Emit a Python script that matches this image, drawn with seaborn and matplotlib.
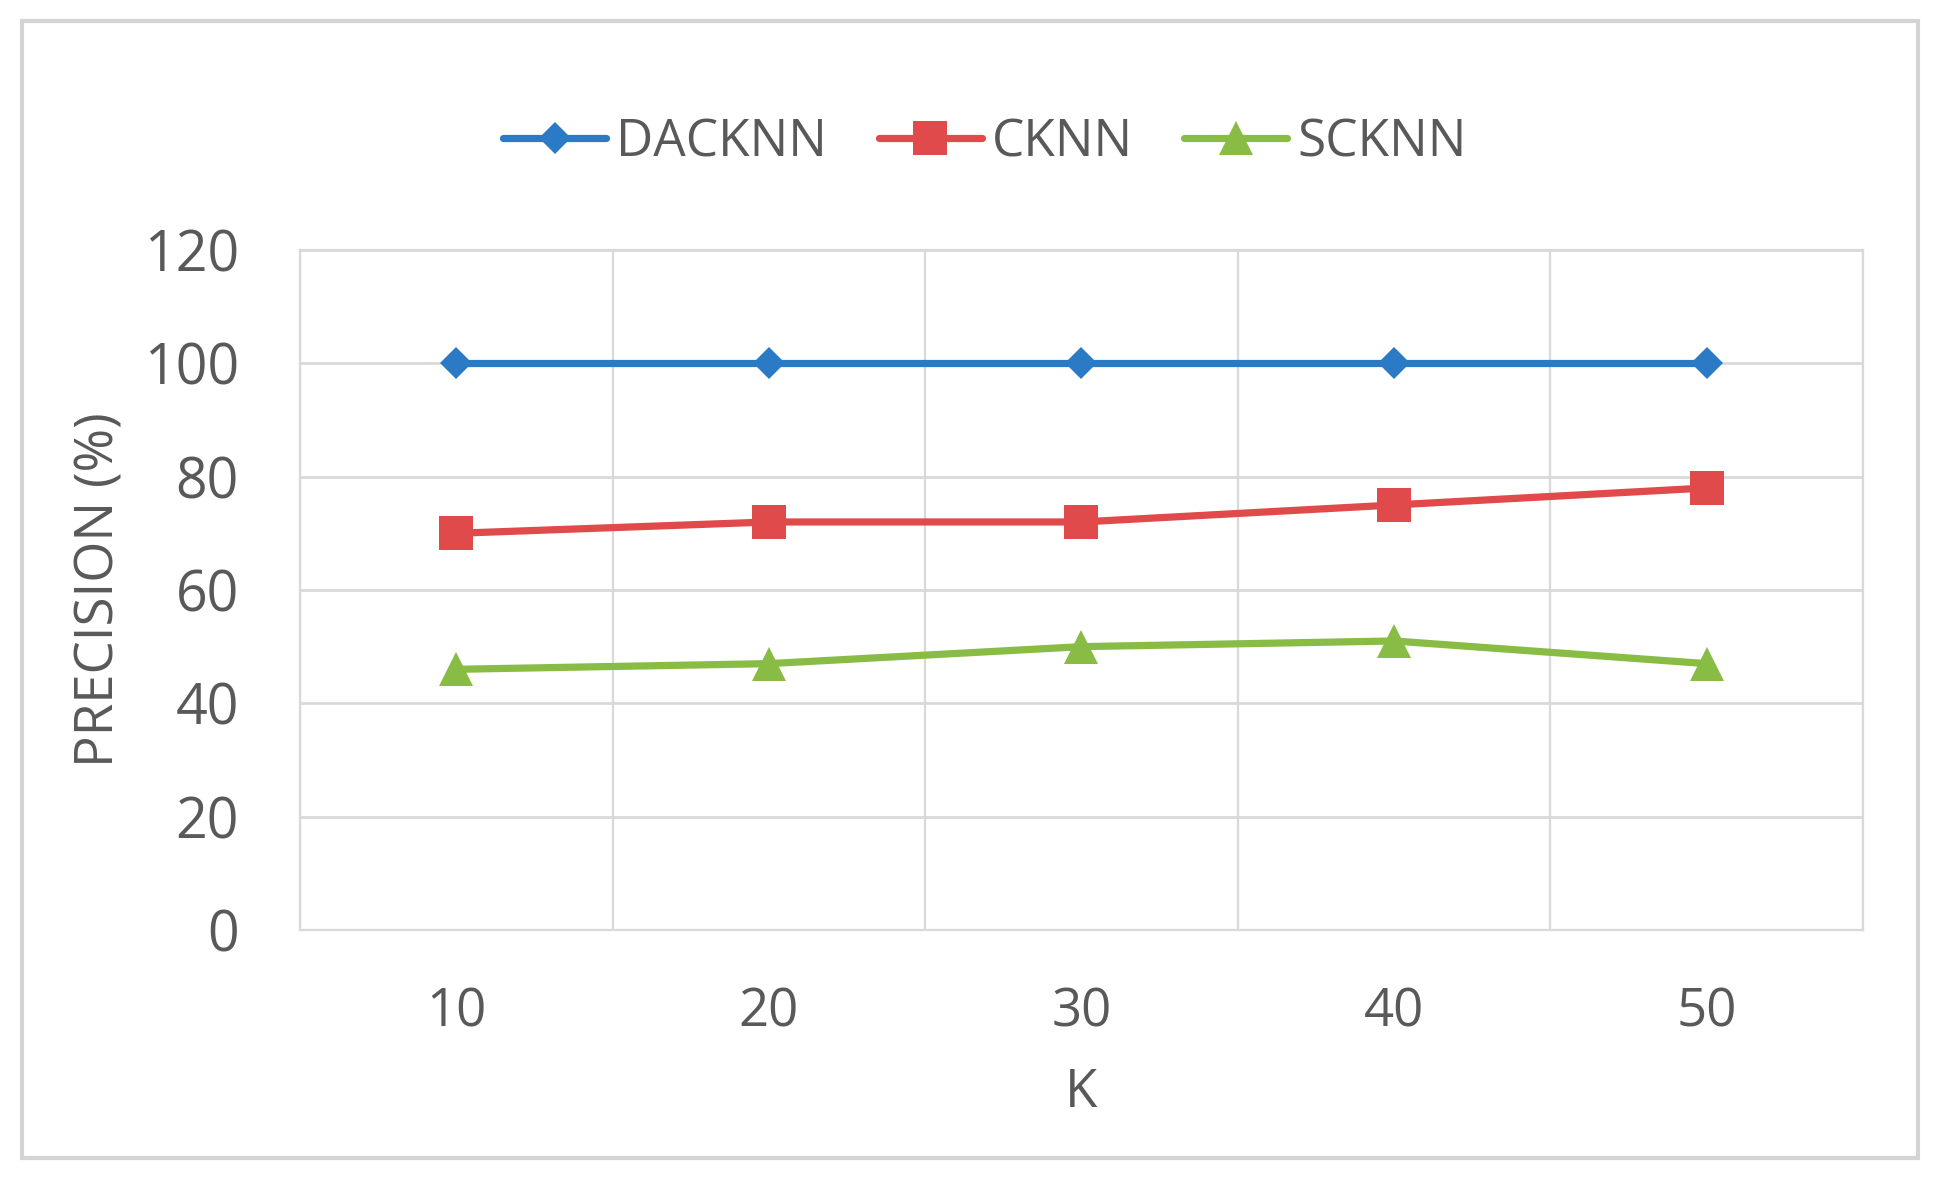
import matplotlib
matplotlib.use("Agg")
import matplotlib.pyplot as plt
import seaborn as sns
import pandas as pd
from matplotlib.patches import Rectangle

# Veriler
k_values = ["10", "20", "30", "40", "50"]
dacknn = [100, 100, 100, 100, 100]
cknn = [70, 72, 72, 75, 78]
scknn = [46, 47, 50, 51, 47]

series_names = ["DACKNN", "CKNN", "SCKNN"]
series_values = [dacknn, cknn, scknn]

colors = {"DACKNN": "#2A7AC6", "CKNN": "#E04A4A", "SCKNN": "#88BC45"}
markers = {"DACKNN": "D", "CKNN": "s", "SCKNN": "^"}
marker_sizes = {"DACKNN": 8, "CKNN": 12.5, "SCKNN": 12.5}

rows = []
for name, vals in zip(series_names, series_values):
    for i, v in enumerate(vals):
        rows.append({"pos": i, "K": k_values[i], "value": v, "method": name})
df = pd.DataFrame(rows)

sns.set_style("white")
plt.rcParams["font.family"] = ["Open Sans", "DejaVu Sans"]
text_color = "#595959"
grid_color = "#D9D9D9"

fig = plt.figure(figsize=(9.715, 5.895), dpi=200)
ax = fig.add_axes([0.1544, 0.2112, 0.8044, 0.5768])

for name in series_names:
    sns.lineplot(data=df[df["method"] == name], x="pos", y="value",
                 color=colors[name], marker=markers[name],
                 markersize=marker_sizes[name], markeredgewidth=0,
                 linewidth=2.6, label=name, ax=ax, zorder=3)

ax.set_xlim(-0.5, len(k_values) - 0.5)
ax.set_ylim(0, 120)
ax.set_yticks(range(0, 121, 20))
ax.set_xticks(range(len(k_values)))
ax.set_xticklabels(k_values)
ax.set_xticks([i - 0.5 for i in range(len(k_values) + 1)], minor=True)

# Izgara çizgileri (Excel tarzı)
ax.grid(axis="y", which="major", color=grid_color, linewidth=1.0)
ax.grid(axis="x", which="minor", color=grid_color, linewidth=0.8)
ax.grid(axis="x", which="major", visible=False)
for sp in ax.spines.values():
    sp.set_color(grid_color)
    sp.set_linewidth(0.8)

ax.tick_params(axis="both", which="both", length=0, colors=text_color)
ax.tick_params(axis="y", labelsize=20, pad=22)
ax.tick_params(axis="x", labelsize=19, pad=20)

ax.set_xlabel("K", fontsize=19, color=text_color, labelpad=10)
ax.set_ylabel("PRECISION (%)", fontsize=19, color=text_color, labelpad=6)

if ax.legend_:
    ax.legend_.remove()
handles, labels = ax.get_legend_handles_labels()
leg = fig.legend(handles, labels, loc="center", bbox_to_anchor=(0.507, 0.879),
                 ncol=3, frameon=False, fontsize=18.5, handlelength=2.0,
                 handletextpad=0.2, columnspacing=1.0)
for t in leg.get_texts():
    t.set_color(text_color)

# Dış çerçeve
fig.patches.append(Rectangle((22 / 1943, 1 - 1158 / 1179), (1918 - 22) / 1943,
                             (1158 - 21) / 1179, transform=fig.transFigure,
                             fill=False, edgecolor="#D4D4D4", linewidth=1.5))

plt.savefig("out.png", dpi=200)
